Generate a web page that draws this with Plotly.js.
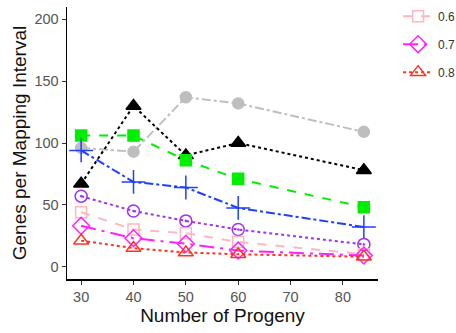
<!DOCTYPE html>
<html><head><meta charset="utf-8">
<script src="https://cdn.plot.ly/plotly-3.0.1.min.js"></script>
<style>html,body{margin:0;padding:0;background:#fff}#chart{width:456px;height:333px}</style>
</head><body><div id="chart"></div>
<script>
const progeny = [30, 40, 50, 60, 84];
const seriesNames = ["0.1", "0.2", "0.3", "0.4", "0.5", "0.6", "0.7", "0.8"];
const grayVals    = [96, 93, 137, 132, 109];
const blackVals   = [67, 130, 90, 100, 78];
const greenVals   = [106, 106, 86, 71, 48];
const blueVals    = [94, 68.5, 64, 47.5, 32];
const purpleVals  = [57, 45, 37, 30, 18];
const pinkVals    = [44, 30, 27, 20, 10];
const magentaVals = [33, 23, 18.5, 13, 9];
const redVals     = [21, 15, 11.5, 10, 8];
const xTicks = [30, 40, 50, 60, 70, 80];
const yTicks = [0, 50, 100, 150, 200];

const styles = [
  {v: grayVals,    c: "#bebebe", d: "dashdot",     s: "circle",             ms: 11, show: false},
  {v: blackVals,   c: "#000000", d: "dot",         s: "triangle-up",        ms: 13, show: false},
  {v: greenVals,   c: "#00ee00", d: "dash",        s: "square",             ms: 11, show: false},
  {v: blueVals,    c: "#1f3fff", d: "dashdot",     s: "cross-thin-open",    ms: 17, show: false},
  {v: purpleVals,  c: "#a033ee", d: "dot",         s: "circle-open-dot",    ms: 12, show: false},
  {v: pinkVals,    c: "#ffb6c1", d: "dash",        s: "square-open",        ms: 11, show: true},
  {v: magentaVals, c: "#ff22ff", d: "longdashdot", s: "diamond-open",       ms: 13, show: true},
  {v: redVals,     c: "#ff3322", d: "dot",         s: "triangle-up-open",   ms: 13, show: true}
];

const traces = styles.map((st, i) => ({
  x: progeny, y: st.v, name: seriesNames[i], type: "scatter", mode: "lines+markers",
  showlegend: st.show, legendgroup: "g" + i,
  line: {color: st.c, dash: st.d, width: 2},
  marker: {symbol: st.s, size: st.ms, color: st.c, line: {color: st.c, width: 1.5}}
}));

const layout = {
  width: 456, height: 333,
  margin: {l: 67, r: 78, t: 7, b: 54, autoexpand: false},
  paper_bgcolor: "#fff", plot_bgcolor: "#fff",
  font: {family: "Liberation Sans, Arial, sans-serif"},
  showlegend: true,
  legend: {xref: "container", yref: "container", x: 0.873, y: 0.995, xanchor: "left", yanchor: "top",
           tracegroupgap: 9, font: {size: 12, color: "#333"}, bgcolor: "rgba(0,0,0,0)"},
  xaxis: {range: [27.3, 86.7], tickvals: xTicks, ticktext: xTicks.map(String),
          showgrid: false, zeroline: false, showline: true, linecolor: "#000", linewidth: 1.5,
          ticks: "outside", ticklen: 4, tickcolor: "#333", tickfont: {size: 14.5, color: "#555"},
          title: {text: "Number of Progeny", font: {size: 19, color: "#111"}, standoff: 5}},
  yaxis: {range: [-10, 210], tickvals: yTicks, ticktext: yTicks.map(String),
          showgrid: false, zeroline: false, showline: true, linecolor: "#000", linewidth: 1.5,
          ticks: "outside", ticklen: 4, tickcolor: "#333", tickfont: {size: 14.5, color: "#555"},
          title: {text: "Genes per Mapping Interval", font: {size: 19, color: "#111"}, standoff: 2}}
};

Plotly.newPlot("chart", traces, layout, {displayModeBar: false, staticPlot: true});
</script>
</body></html>
